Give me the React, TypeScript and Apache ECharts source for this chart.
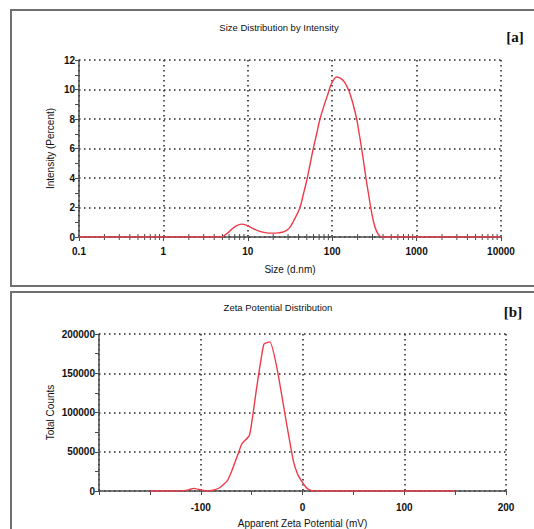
import React, { useEffect, useRef } from "react";
import * as echarts from "echarts";

// Panel [a]: Size Distribution by Intensity
const sizeNm = [0.1, 1, 4.6, 5.1, 5.7, 6.4, 7.3, 8.4, 9.6, 11.3, 13.3, 16, 19.5, 23, 27, 31, 35, 41.5, 46, 50.7, 55, 59.7, 65.5, 71.7, 81, 89, 98, 113, 126, 140, 158, 175, 195, 209, 223, 237, 251, 268, 286, 310, 335, 368, 410, 10000];
const intensityPct = [0, 0, 0, 0.05, 0.25, 0.5, 0.75, 0.87, 0.8, 0.6, 0.42, 0.3, 0.26, 0.28, 0.36, 0.6, 1.1, 2.0, 3.0, 4.0, 5.0, 6.0, 7.0, 8.0, 9.0, 9.7, 10.4, 10.85, 10.75, 10.5, 9.9, 9.1, 8.0, 7.0, 6.0, 5.0, 4.0, 3.0, 2.0, 1.0, 0.4, 0.05, 0, 0];
const logMinorTicks = [0.2, 0.3, 0.4, 0.5, 0.6, 0.7, 0.8, 0.9, 2, 3, 4, 5, 6, 7, 8, 9, 20, 30, 40, 50, 60, 70, 80, 90, 200, 300, 400, 500, 600, 700, 800, 900, 2000, 3000, 4000, 5000, 6000, 7000, 8000, 9000];

// Panel [b]: Zeta Potential Distribution
const zetaMv = [-150, -120, -112, -107, -100, -94, -88, -81, -74, -70, -66, -62, -59.6, -52, -45, -38, -32, -25, -15, -9, -5, -1, 3, 6, 11, 20, 150];
const totalCounts = [0, 0, 1500, 3400, 1500, 0, 900, 4500, 12800, 24000, 38000, 52000, 60000, 71400, 132000, 187000, 190000, 156000, 81000, 38500, 22000, 12800, 5500, 2200, 0, 0, 0];

const FONT = "'Liberation Sans', Arial, sans-serif";
const SERIF = "'Liberation Serif', 'Times New Roman', serif";
const RED = "#ee3b4a";
const AXIS = "#4a4a4a";
const GRID = { type: [1.5, 3.5], color: "#222", width: 1.5 };

export default function App() {
  const ref = useRef<HTMLDivElement>(null);
  useEffect(() => {
    if (!ref.current) return;
    const chart = echarts.init(ref.current, null, { renderer: "svg" });
    const labelStyle = { fontSize: 10, fontWeight: "bold", color: "#111", fontFamily: FONT };
    const nameStyle = { fontSize: 10, color: "#111", fontFamily: FONT };
    chart.setOption({
      animation: false,
      backgroundColor: "#fff",
      grid: [
        { left: 79, top: 60, width: 422, height: 177 },
        { left: 99, top: 334, width: 407, height: 157 },
      ],
      xAxis: [
        {
          type: "log", gridIndex: 0, logBase: 10, min: 0.1, max: 10000,
          axisLine: { show: true, onZero: false, lineStyle: { color: AXIS, width: 1.5 } },
          axisTick: { show: true, length: 4, lineStyle: { color: AXIS } },
          axisLabel: { ...labelStyle, margin: 9, formatter: (v: number) => String(+Number(v).toPrecision(6)) },
          splitLine: { show: true, lineStyle: GRID },
          name: "Size (d.nm)", nameLocation: "middle", nameGap: 27, nameMoveOverlap: false, nameTextStyle: nameStyle,
        },
        {
          type: "value", gridIndex: 1, min: -200, max: 200, interval: 100,
          axisLine: { show: true, onZero: false, lineStyle: { color: AXIS, width: 1.5 } },
          axisTick: { show: true, length: 4, lineStyle: { color: AXIS } },
          minorTick: { show: true, splitNumber: 2, length: 4, lineStyle: { color: AXIS } },
          axisLabel: { ...labelStyle, margin: 11, formatter: (v: number) => (v === -200 ? "" : String(v)) },
          splitLine: { show: true, lineStyle: GRID },
          name: "Apparent Zeta Potential (mV)", nameLocation: "middle", nameGap: 27, nameMoveOverlap: false, nameTextStyle: nameStyle,
        },
      ],
      yAxis: [
        {
          type: "value", gridIndex: 0, min: 0, max: 12, interval: 2,
          axisLine: { show: true, onZero: false, lineStyle: { color: AXIS, width: 1.5 } },
          axisTick: { show: true, length: 4, lineStyle: { color: AXIS } },
          minorTick: { show: true, splitNumber: 2, length: 4, lineStyle: { color: AXIS } },
          axisLabel: { ...labelStyle, margin: 4 },
          splitLine: { show: true, lineStyle: GRID },
          name: "Intensity (Percent)", nameLocation: "middle", nameGap: 24, nameMoveOverlap: false, nameTextStyle: nameStyle,
        },
        {
          type: "value", gridIndex: 1, min: 0, max: 200000, interval: 50000,
          axisLine: { show: true, onZero: false, lineStyle: { color: AXIS, width: 1.5 } },
          axisTick: { show: true, length: 4, lineStyle: { color: AXIS } },
          minorTick: { show: true, splitNumber: 2, length: 4, lineStyle: { color: AXIS } },
          axisLabel: { ...labelStyle, margin: 4, formatter: (v: number) => String(v) },
          splitLine: { show: true, lineStyle: GRID },
          name: "Total Counts", nameLocation: "middle", nameGap: 44, nameMoveOverlap: false, nameTextStyle: nameStyle,
        },
      ],
      graphic: [
        { type: "rect", shape: { x: 11, y: 10, width: 540, height: 276 }, style: { fill: "none", stroke: "#707070", lineWidth: 2 }, z: -1 },
        { type: "rect", shape: { x: 11, y: 292, width: 540, height: 260 }, style: { fill: "none", stroke: "#707070", lineWidth: 2 }, z: -1 },
        { type: "text", x: 279, y: 27, style: { text: "Size Distribution by Intensity", fontSize: 9.5, fontFamily: FONT, fill: "#111", textAlign: "center", textVerticalAlign: "middle" } },
        { type: "text", x: 515, y: 37, style: { text: "[a]", fontSize: 15, fontWeight: "bold", fontFamily: SERIF, fill: "#111", textAlign: "center", textVerticalAlign: "middle" } },
        { type: "text", x: 278, y: 307, style: { text: "Zeta Potential Distribution", fontSize: 9.5, fontFamily: FONT, fill: "#111", textAlign: "center", textVerticalAlign: "middle" } },
        { type: "text", x: 513, y: 312, style: { text: "[b]", fontSize: 15, fontWeight: "bold", fontFamily: SERIF, fill: "#111", textAlign: "center", textVerticalAlign: "middle" } },
      ],
      series: [
        {
          type: "custom", xAxisIndex: 0, yAxisIndex: 0, silent: true, z: 3,
          data: logMinorTicks.map((v) => [v, 0]),
          renderItem: (params: any, api: any) => {
            const p = api.coord([api.value(0), 0]);
            return { type: "line", shape: { x1: p[0], y1: p[1] - 3, x2: p[0], y2: p[1] + 3 }, style: { stroke: AXIS, lineWidth: 1 } };
          },
        },
        {
          type: "line", xAxisIndex: 0, yAxisIndex: 0, showSymbol: false, smooth: 0.35, z: 4,
          lineStyle: { color: RED, width: 1.4 },
          data: sizeNm.map((s, i) => [s, intensityPct[i]]),
        },
        {
          type: "line", xAxisIndex: 1, yAxisIndex: 1, showSymbol: false, smooth: 0.15, z: 4,
          lineStyle: { color: RED, width: 1.4 },
          data: zetaMv.map((z, i) => [z, totalCounts[i]]),
        },
      ],
    });
    return () => chart.dispose();
  }, []);
  return <div ref={ref} style={{ position: "fixed", left: 0, top: 0, width: 534, height: 529, background: "#fff" }} />;
}
